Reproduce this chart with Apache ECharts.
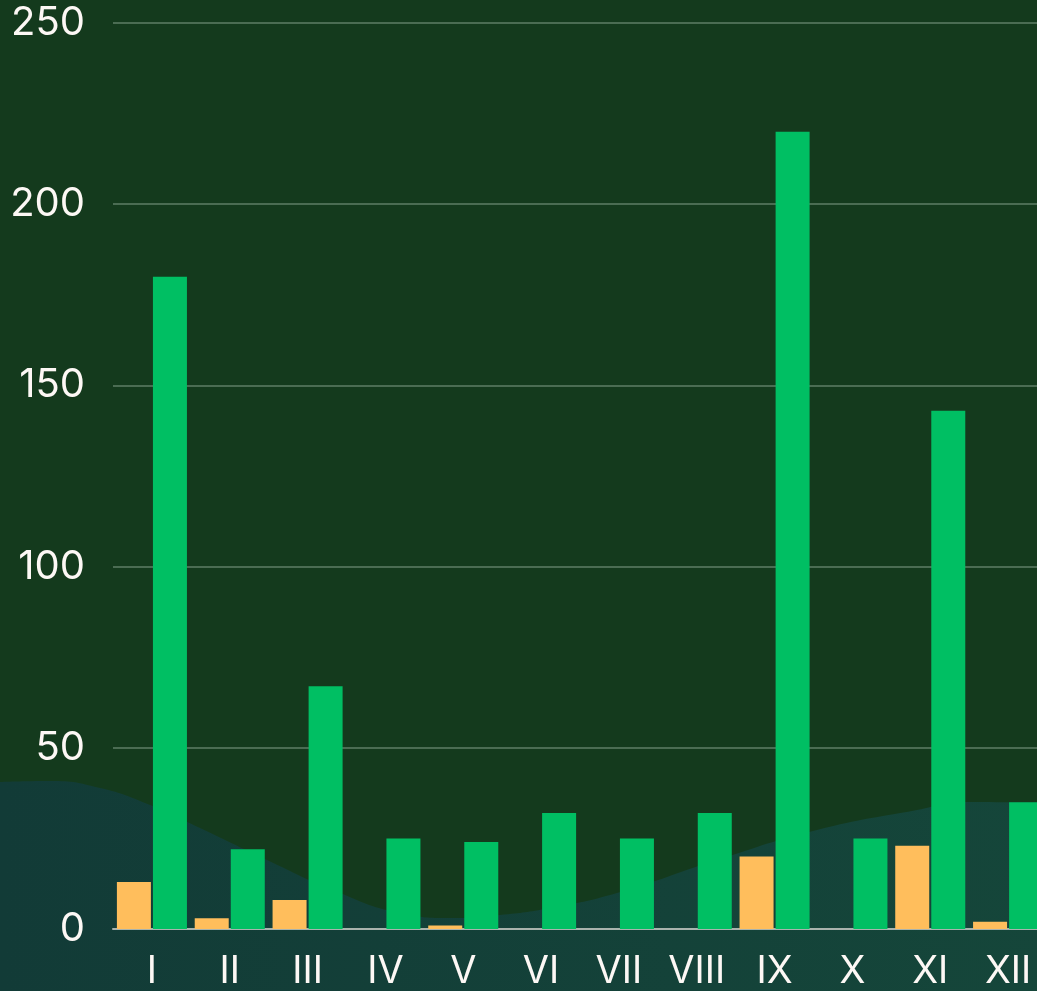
<!DOCTYPE html>
<html>
<head>
<meta charset="utf-8">
<script src="https://cdn.jsdelivr.net/npm/echarts@6/dist/echarts.min.js"></script>
<style>
  html, body { margin: 0; padding: 0; background: #143a1d; overflow: hidden; }
  #chart { width: 1047px; height: 991px; }
</style>
</head>
<body>
<div id="chart"></div>
<script>
const categories = ['I', 'II', 'III', 'IV', 'V', 'VI', 'VII', 'VIII', 'IX', 'X', 'XI', 'XII']
const orangeValues = [13, 3, 8, 0, 1, 0, 0, 0, 20, 0, 23, 2]
const greenValues = [180, 22, 67, 25, 24, 32, 25, 32, 220, 25, 143, 35]
const yTicks = [0, 50, 100, 150, 200, 250]

// background wave (x across, height from bottom)
const waveX = [0, 50, 100, 150, 200, 267, 333, 400, 450, 500, 550, 617, 717, 817, 917, 967, 1047]
const waveY = [209, 210, 203, 186, 163, 131, 101, 78, 73, 76, 83, 98, 131, 161, 181, 189, 188]

const chart = echarts.init(document.getElementById('chart'))

chart.setOption({
  backgroundColor: '#143a1d',
  animation: false,
  grid: [
    { left: 113, right: 0, top: 23, bottom: 61 },
    { left: 0, right: 0, top: 0, bottom: 0 }
  ],
  xAxis: [{
    type: 'category',
    data: categories,
    gridIndex: 0,
    z: 3,
    axisLine: { lineStyle: { color: '#a9b3ad', width: 2 } },
    axisTick: { show: false },
    axisLabel: {
      color: '#fdf8f5',
      fontFamily: 'Inter',
      fontSize: 38,
      margin: 24
    }
  }, {
    type: 'value',
    gridIndex: 1,
    min: 0,
    max: 1047,
    show: false
  }],
  yAxis: [{
    type: 'value',
    gridIndex: 0,
    min: yTicks[0],
    max: yTicks[yTicks.length - 1],
    interval: 50,
    z: 3,
    axisLine: { show: false },
    axisTick: { show: false },
    splitLine: { lineStyle: { color: '#4b6c53', width: 2 } },
    axisLabel: {
      color: '#fdf8f5',
      fontFamily: 'Inter',
      fontSize: 40,
      margin: 28
    }
  }, {
    type: 'value',
    gridIndex: 1,
    min: 0,
    max: 991,
    show: false
  }],
  series: [{
    name: 'wave',
    type: 'line',
    xAxisIndex: 1,
    yAxisIndex: 1,
    z: 1,
    smooth: true,
    symbol: 'none',
    silent: true,
    lineStyle: { width: 0 },
    areaStyle: {
      opacity: 1,
      color: new echarts.graphic.LinearGradient(0, 0, 1, 0, [
        { offset: 0, color: '#123b37' },
        { offset: 1, color: '#15463a' }
      ])
    },
    data: waveX.map((x, i) => [x, waveY[i]])
  }, {
    name: 'orange',
    type: 'bar',
    z: 5,
    barWidth: 34,
    barGap: '6%',
    itemStyle: { color: '#ffbe5c' },
    data: orangeValues
  }, {
    name: 'green',
    type: 'bar',
    z: 5,
    barWidth: 34,
    barGap: '6%',
    itemStyle: { color: '#00bf63' },
    data: greenValues
  }]
})
</script>
</body>
</html>
